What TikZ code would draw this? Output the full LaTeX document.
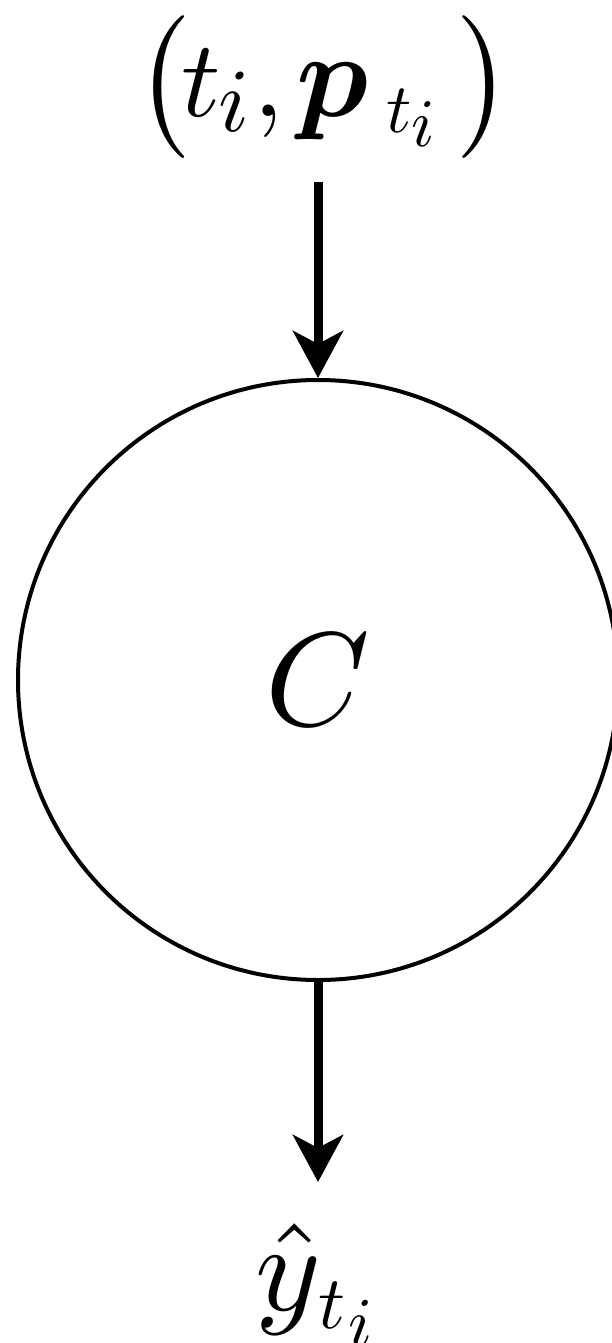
\documentclass[tikz,border=0pt]{standalone}
\usepackage{bm}
\usetikzlibrary{arrows.meta}
\newcommand{\G}[2]{\scalebox{#1}{$#2$}}
\newcommand{\at}[2]{\rlap{#2}\kern#1pt}
\begin{document}
\begin{tikzpicture}[x=1pt,y=1pt,
  conn/.style={line width=9pt,-{Stealth[length=47pt,width=50pt,inset=13pt]}},
  lbl/.style={inner sep=0pt,anchor=base west}]
\useasboundingbox (0,0) rectangle (612,-1343);
\node[draw,circle,line width=4pt,minimum size=600pt,inner sep=0pt] (c) at (318,-680)
  {\resizebox{!}{91pt}{$C$}};
\node[lbl] (in) at (143,-117)
  {\kern-8pt\at{46}{\G{11.9}{\bigl(}}%
   \at{37}{\G{10.9}{t}}%
   \at{35}{\raisebox{-15pt}{\G{9}{i}}}%
   \at{43}{\G{10.9}{,}}%
   \at{90}{\G{12}{\bm{p}}}%
   \at{25}{\raisebox{-16pt}{\G{7}{t}}}%
   \at{46}{\raisebox{-30pt}{\G{6.8}{i}}}%
   \at{29}{\G{11.9}{\bigr)}}};
\node[lbl] (out) at (255,-1310)
  {\at{63}{\G{12.5}{\hat{y}}}%
   \at{30}{\raisebox{-18pt}{\G{7.5}{t}}}%
   \at{20}{\raisebox{-36pt}{\G{7}{i}}}};
\coordinate (a1) at (318,-182);
\coordinate (a2) at (318,-1182);
\draw[conn] (a1) -- (c.north);
\draw[conn] (c.south) -- (a2);
\end{tikzpicture}
\end{document}
